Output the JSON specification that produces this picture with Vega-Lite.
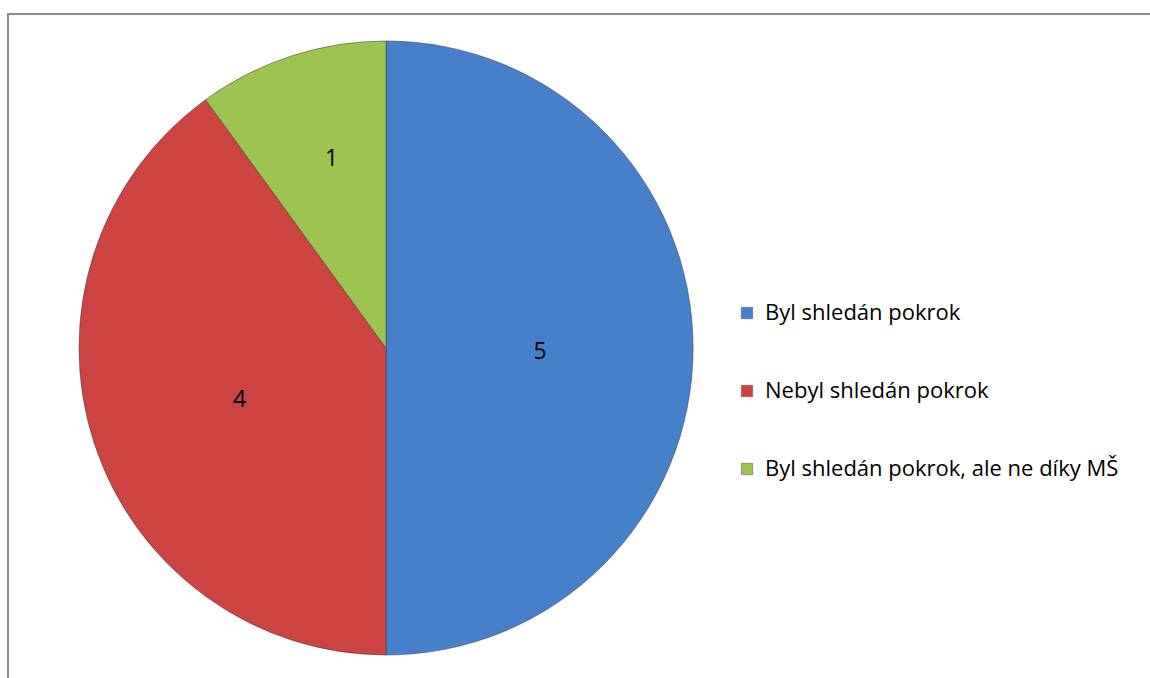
{
  "$schema": "https://vega.github.io/schema/vega-lite/v6.json",
  "width": 1160,
  "height": 690,
  "autosize": "none",
  "padding": {"left": 8, "top": 14, "right": 0, "bottom": 0},
  "background": "white",
  "view": {"stroke": "#8a8a8a", "strokeWidth": 2, "fill": "white"},
  "config": {
    "view": {"stroke": "#8a8a8a", "strokeWidth": 2},
    "font": "Open Sans"
  },
  "data": {
    "values": [
      {"kategorie": "Byl shledán pokrok", "pocet": 5, "poradi": 1},
      {"kategorie": "Nebyl shledán pokrok", "pocet": 4, "poradi": 2},
      {"kategorie": "Byl shledán pokrok, ale ne díky MŠ", "pocet": 1, "poradi": 3}
    ]
  },
  "encoding": {
    "theta": {"field": "pocet", "type": "quantitative", "stack": true},
    "order": {"field": "poradi", "type": "quantitative", "sort": "ascending"}
  },
  "layer": [
    {
      "mark": {"type": "arc", "x": 378, "y": 334, "outerRadius": 307, "stroke": "#3a3a3a", "strokeWidth": 1, "strokeOpacity": 0.5},
      "encoding": {
        "color": {
          "field": "kategorie",
          "type": "nominal",
          "scale": {
            "domain": ["Byl shledán pokrok", "Nebyl shledán pokrok", "Byl shledán pokrok, ale ne díky MŠ"],
            "range": ["#4680CB", "#CC4341", "#9DC450"]
          },
          "legend": {
            "title": null,
            "orient": "none",
            "legendX": 728,
            "legendY": 288,
            "symbolType": "square",
            "symbolSize": 130,
            "symbolStrokeColor": "#555",
            "symbolStrokeWidth": 0.5,
            "labelFontSize": 22,
            "labelFont": "Open Sans",
            "labelColor": "#000",
            "labelLimit": 500,
            "labelOffset": 7,
            "rowPadding": 56
          }
        }
      }
    },
    {
      "mark": {"type": "text", "x": 378, "y": 334, "radius": 154, "fontSize": 23, "font": "Open Sans", "color": "#000", "dy": 4},
      "encoding": {
        "text": {"condition": {"test": "datum.pocet > 1", "field": "pocet", "type": "quantitative"}, "value": ""}
      }
    },
    {
      "mark": {"type": "text", "x": 378, "y": 334, "radius": 199, "fontSize": 23, "font": "Open Sans", "color": "#000", "dx": 7, "dy": 0},
      "encoding": {
        "text": {"condition": {"test": "datum.pocet == 1", "field": "pocet", "type": "quantitative"}, "value": ""}
      }
    }
  ]
}
